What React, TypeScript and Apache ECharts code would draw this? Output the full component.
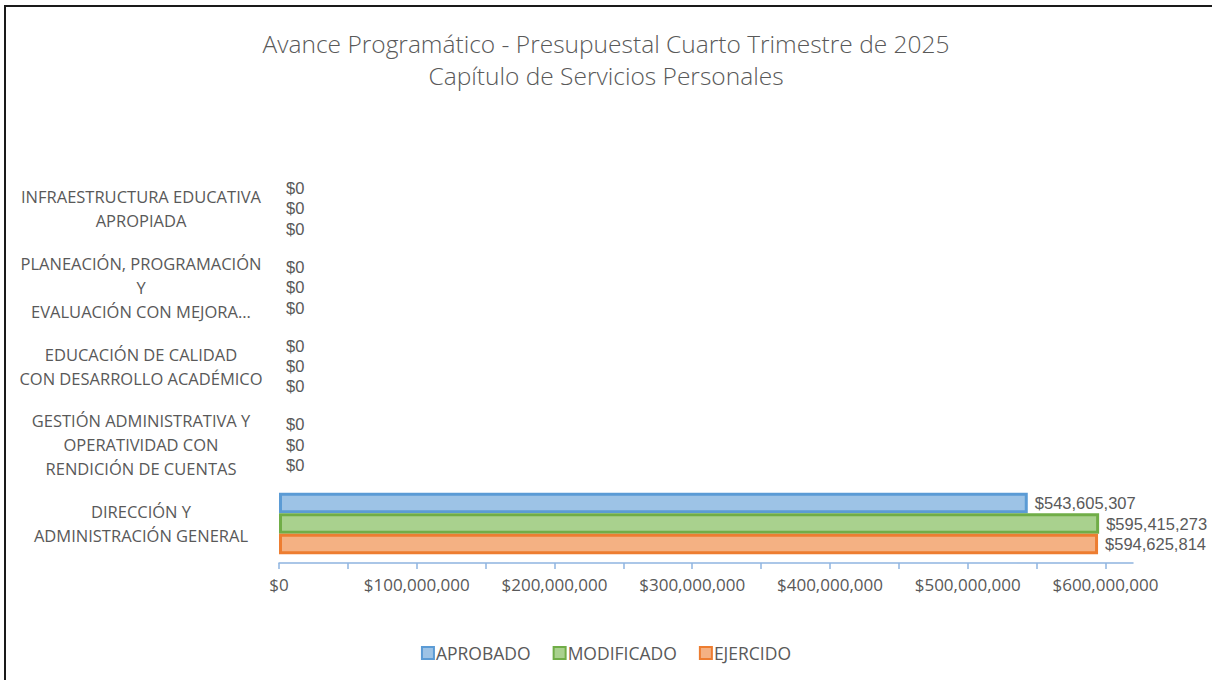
import React, { useEffect, useRef } from "react";
import * as echarts from "echarts";

const categories = [
  "DIRECCIÓN Y\nADMINISTRACIÓN GENERAL",
  "GESTIÓN ADMINISTRATIVA Y\nOPERATIVIDAD CON\nRENDICIÓN DE CUENTAS",
  "EDUCACIÓN DE CALIDAD\nCON DESARROLLO ACADÉMICO",
  "PLANEACIÓN, PROGRAMACIÓN\nY\nEVALUACIÓN CON MEJORA...",
  "INFRAESTRUCTURA EDUCATIVA\nAPROPIADA",
];
const aprobado = [543605307, 0, 0, 0, 0];
const modificado = [595415273, 0, 0, 0, 0];
const ejercido = [594625814, 0, 0, 0, 0];
const tickValues = [0, 50e6, 100e6, 150e6, 200e6, 250e6, 300e6, 350e6, 400e6, 450e6, 500e6, 550e6, 600e6];
const labelValues = [0, 100e6, 200e6, 300e6, 400e6, 500e6, 600e6];

const FONT = "Open Sans";
const LABEL_FONT = "Liberation Sans";
const GRAY = "#595959";
const money = (v: number) => "$" + Math.round(v).toLocaleString("en-US");

export default function App() {
  const ref = useRef<HTMLDivElement>(null);
  useEffect(() => {
    if (!ref.current) return;
    const chart = echarts.init(ref.current, undefined, { renderer: "svg" });
    const mk = (name: string, data: number[], fill: string, border: string) => ({
      name,
      type: "bar",
      data: data.map((v) => (v === 0 ? { value: v, itemStyle: { borderWidth: 0 } } : v)),
      barGap: "0%",
      barCategoryGap: "22%",
      itemStyle: { color: fill, borderColor: border, borderWidth: 3 },
      label: {
        show: true,
        position: "right",
        distance: 7,
        formatter: (p: any) => money(p.value),
        color: GRAY,
        fontFamily: LABEL_FONT,
        fontSize: 16.5,
        lineHeight: 17,
      },
    });
    chart.setOption({
      animation: false,
      backgroundColor: "#ffffff",
      textStyle: { fontFamily: FONT },
      title: {
        text: "Avance Programático - Presupuestal Cuarto Trimestre de 2025\nCapítulo de Servicios Personales",
        left: "center",
        top: 22,
        textStyle: { fontFamily: FONT, fontSize: 24.5, fontWeight: 300, color: GRAY, lineHeight: 32 },
      },
      graphic: [
        {
          type: "rect",
          shape: { x: 5, y: 6, width: 1400, height: 900 },
          style: { fill: "none", stroke: "#1a1a1a", lineWidth: 2 },
          silent: true,
        },
      ],
      legend: {
        top: 639,
        left: "center",
        data: ["APROBADO", "MODIFICADO", "EJERCIDO"],
        icon: "rect",
        itemWidth: 12,
        itemHeight: 12,
        itemGap: 22,
        textStyle: { color: GRAY, fontFamily: FONT, fontSize: 17.5, padding: [0, 0, 0, -3] },
      },
      grid: { left: 279, top: 169, right: 79, bottom: 117 },
      xAxis: {
        type: "value",
        min: 0,
        max: 620e6,
        axisLine: { show: true, lineStyle: { color: "#8FB4E0", width: 1.5 } },
        axisTick: { show: true, length: 6, lineStyle: { color: "#8FB4E0", width: 1.5 }, customValues: tickValues },
        axisLabel: {
          customValues: labelValues,
          formatter: (v: number) => money(v),
          color: GRAY,
          fontFamily: FONT,
          fontSize: 17,
          margin: 13,
        },
        splitLine: { show: false },
      },
      yAxis: {
        type: "category",
        data: categories,
        axisLine: { show: false },
        axisTick: { show: false },
        axisLabel: {
          align: "center",
          margin: 138,
          color: GRAY,
          fontFamily: FONT,
          fontSize: 16.5,
          lineHeight: 24,
        },
      },
      series: [
        mk("APROBADO", aprobado, "#9DC3E6", "#5B9BD5"),
        mk("MODIFICADO", modificado, "#A9D18E", "#70AD47"),
        mk("EJERCIDO", ejercido, "#F4B183", "#ED7D31"),
      ],
    });
    return () => chart.dispose();
  }, []);
  return (
    <div
      ref={ref}
      style={{ position: "absolute", left: 0, top: 0, width: 1212, height: 680 }}
    />
  );
}
